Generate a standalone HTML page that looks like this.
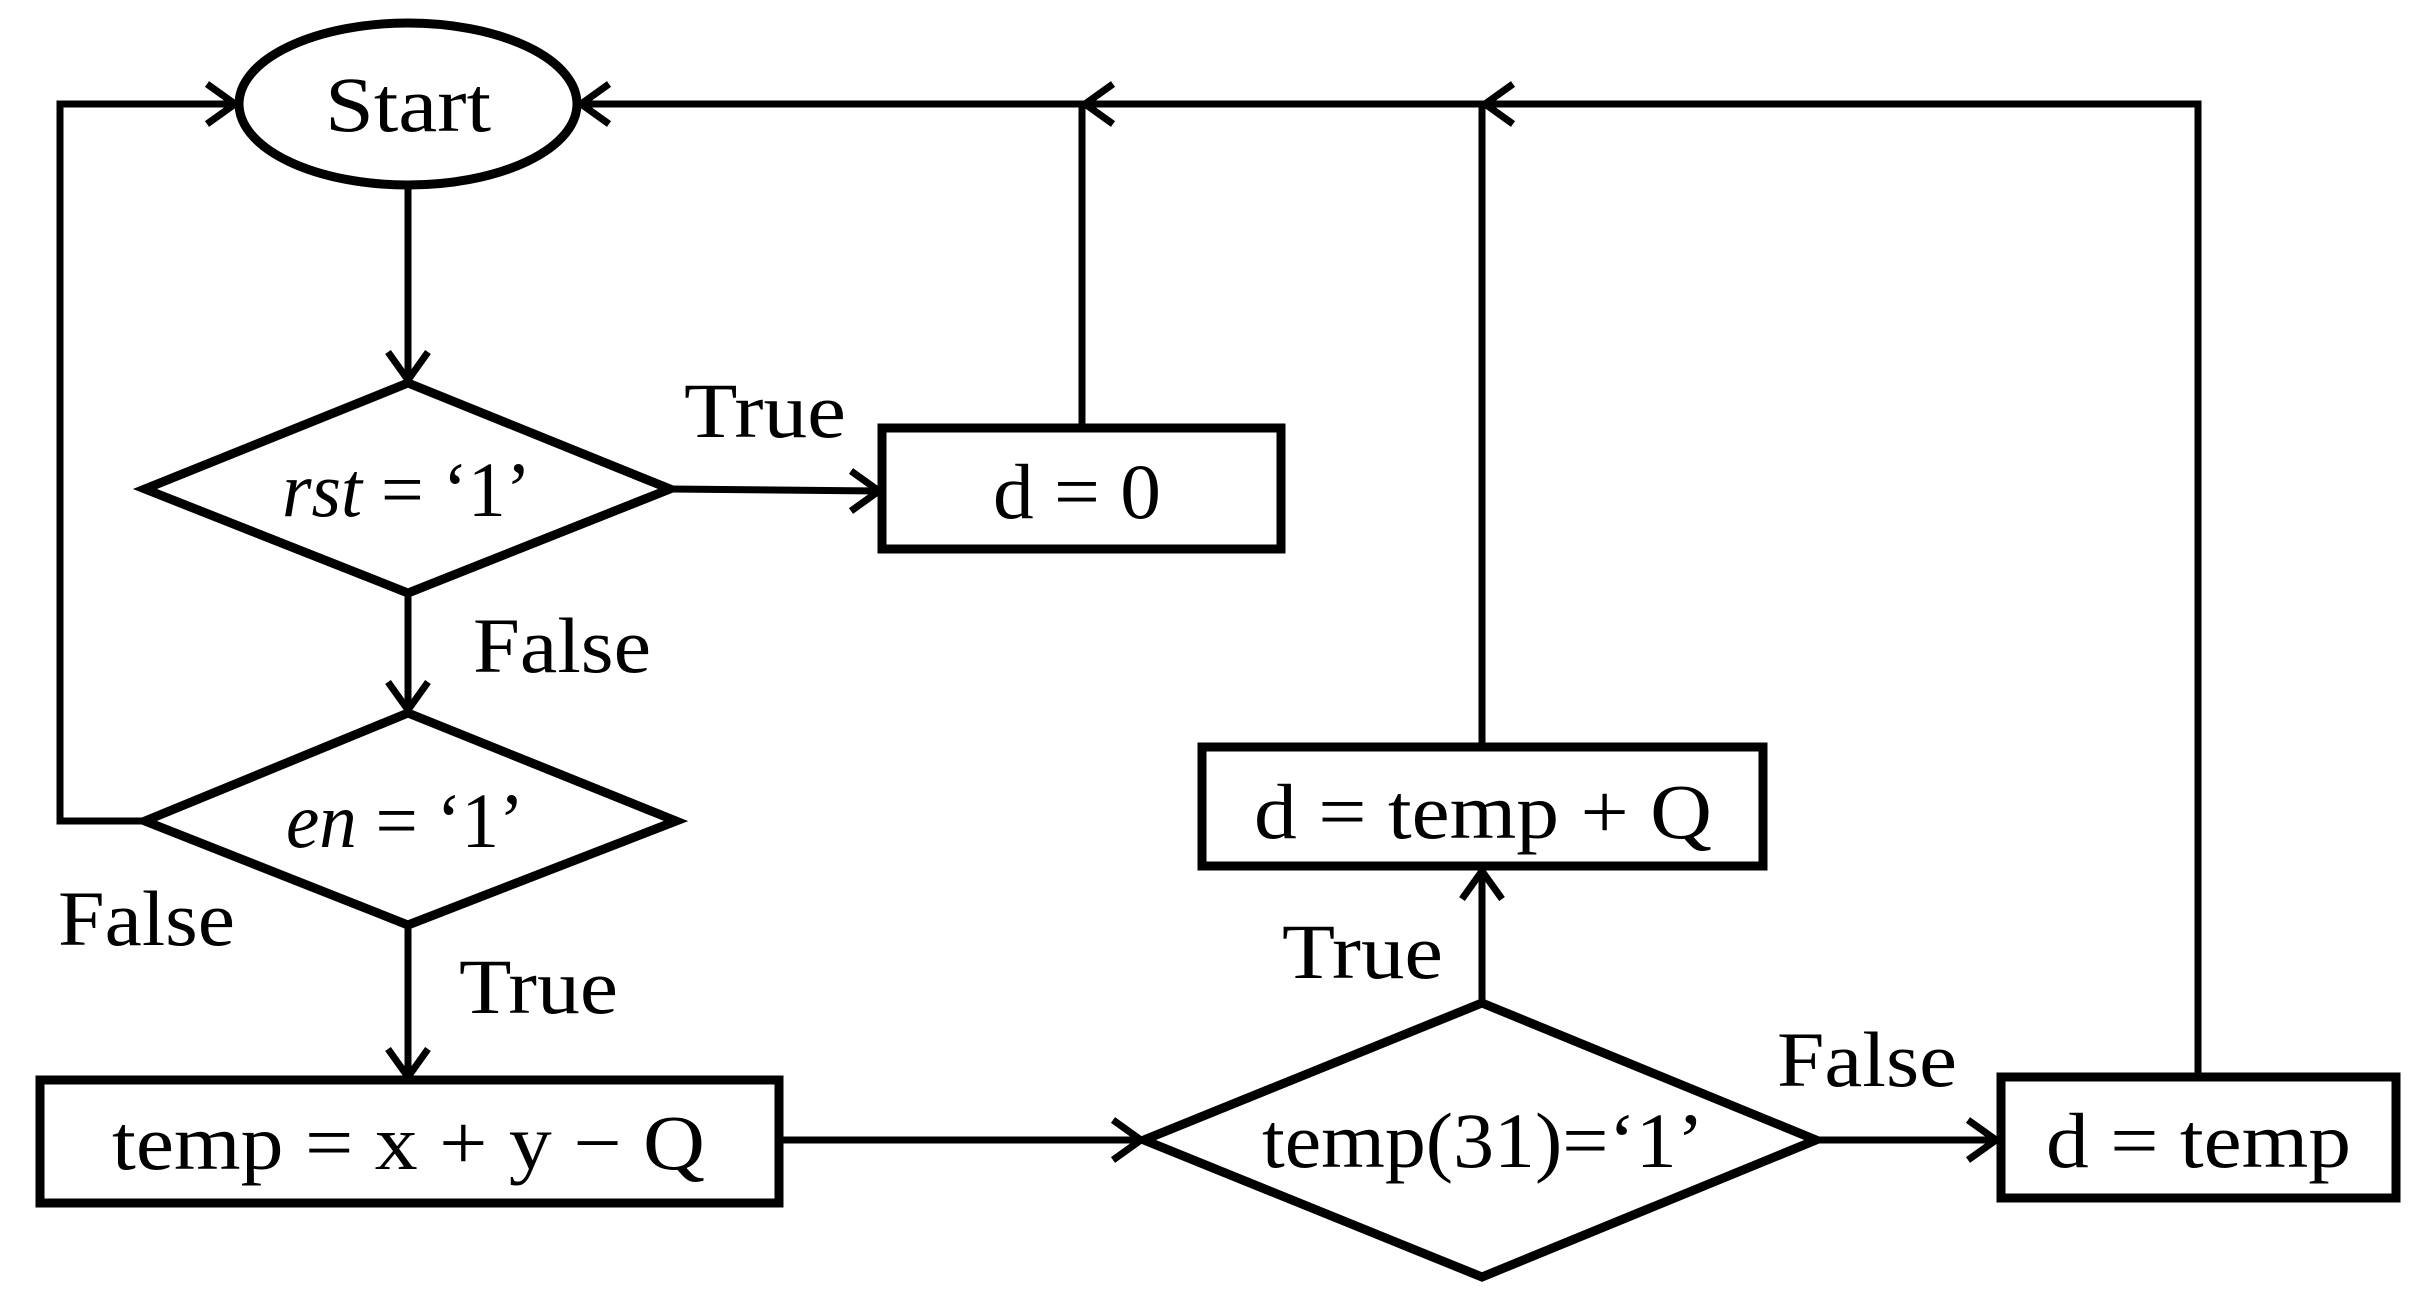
<!DOCTYPE html>
<html><head><meta charset="utf-8"><style>
html,body{margin:0;padding:0;background:#fff;}
svg{display:block;}
text{font-family:"Liberation Serif",serif;font-size:78px;fill:#000;}
</style></head><body>
<svg width="2421" height="1289" viewBox="0 0 2421 1289" xmlns="http://www.w3.org/2000/svg">
<g fill="none" stroke="#000" stroke-width="7" stroke-linejoin="miter">
<!-- connectors -->
<line x1="408" y1="187" x2="408" y2="380"/>
<line x1="670" y1="489" x2="879" y2="491"/>
<line x1="408" y1="593" x2="408" y2="710"/>
<polyline points="145,821 60,821 60,104 235,104"/>
<line x1="408" y1="925" x2="408" y2="1077"/>
<line x1="781" y1="1140" x2="1141" y2="1140"/>
<line x1="1482" y1="1001" x2="1482" y2="871"/>
<line x1="1816" y1="1140" x2="1996" y2="1140"/>
<polyline points="2198,1075 2198,104 1485,104"/>
<polyline points="1482,745 1482,104 1085,104"/>
<polyline points="1082,424 1082,104 581,104"/>
<!-- arrowheads -->
<polyline points="388,352 408,380 428,352"/>
<polyline points="851,471 879,491 851,511"/>
<polyline points="388,682 408,710 428,682"/>
<polyline points="207,84 235,104 207,124"/>
<polyline points="388,1049 408,1077 428,1049"/>
<polyline points="1113,1120 1141,1140 1113,1160"/>
<polyline points="1462,899 1482,871 1502,899"/>
<polyline points="1968,1120 1996,1140 1968,1160"/>
<polyline points="1513,84 1485,104 1513,124"/>
<polyline points="1113,84 1085,104 1113,124"/>
<polyline points="609,84 581,104 609,124"/>
</g>
<g fill="#fff" stroke="#000" stroke-width="9">
<ellipse cx="408" cy="104" rx="169" ry="81"/>
<polygon points="408,383 670,489 408,593 145,489"/>
<rect x="882" y="428" width="399" height="121"/>
<polygon points="408,713 676,821 408,925 145,821"/>
<rect x="40" y="1080" width="739" height="123"/>
<polygon points="1482,1003 1816,1140 1482,1277 1144,1140"/>
<rect x="1202" y="747" width="561" height="119"/>
<rect x="2001" y="1077" width="395" height="121"/>
</g>
<text x="325" y="131" textLength="166" lengthAdjust="spacingAndGlyphs">Start</text>
<text x="282" y="516" textLength="249" lengthAdjust="spacingAndGlyphs"><tspan font-style="italic">rst</tspan> = ‘1’</text>
<text x="993" y="518" textLength="168" lengthAdjust="spacingAndGlyphs">d = 0</text>
<text x="286" y="847" textLength="238" lengthAdjust="spacingAndGlyphs"><tspan font-style="italic">en</tspan> = ‘1’</text>
<text x="112" y="1169" textLength="593" lengthAdjust="spacingAndGlyphs">temp = x + y − Q</text>
<text x="1254" y="838" textLength="458" lengthAdjust="spacingAndGlyphs">d = temp + Q</text>
<text x="1262" y="1167" textLength="442" lengthAdjust="spacingAndGlyphs">temp(31)=‘1’</text>
<text x="2046" y="1167" textLength="305" lengthAdjust="spacingAndGlyphs">d = temp</text>
<text x="684" y="437" textLength="162" lengthAdjust="spacingAndGlyphs">True</text>
<text x="473" y="672" textLength="178" lengthAdjust="spacingAndGlyphs">False</text>
<text x="58" y="945" textLength="177" lengthAdjust="spacingAndGlyphs">False</text>
<text x="459" y="1013" textLength="159" lengthAdjust="spacingAndGlyphs">True</text>
<text x="1282" y="978" textLength="161" lengthAdjust="spacingAndGlyphs">True</text>
<text x="1777" y="1086" textLength="180" lengthAdjust="spacingAndGlyphs">False</text>
</svg>
</body></html>
